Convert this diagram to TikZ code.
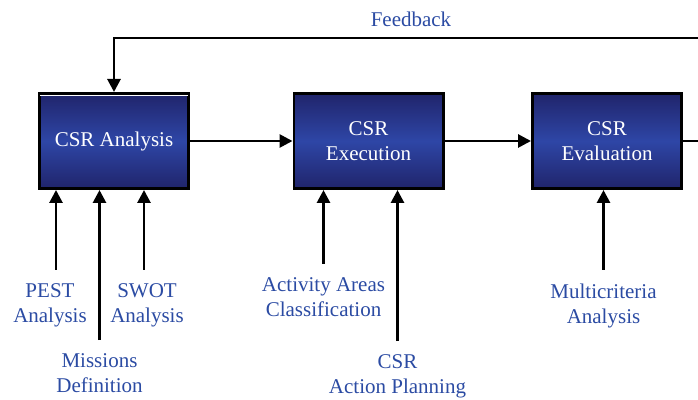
\documentclass[tikz,border=0pt]{standalone}
\usepackage{fontspec}
\setmainfont{Liberation Serif}
\usetikzlibrary{arrows.meta,positioning}
\definecolor{csrdark}{HTML}{20246B}
\definecolor{csrlight}{HTML}{2E46A6}
\definecolor{csrtext}{HTML}{2B4BA3}

\begin{document}
\begin{tikzpicture}[x=1pt,y=1pt,
  csrbox/.style={draw=black, line width=2.8pt, minimum width=149.2pt, minimum height=95.2pt,
    inner sep=0pt, top color=csrdark, bottom color=csrdark, middle color=csrlight,
    text=white, align=center, font=\fontsize{21}{25}\selectfont},
  lbl/.style={text=csrtext, align=center, inner sep=0pt, outer ysep=14pt,
    font=\fontsize{21}{25}\selectfont},
  flow/.style={line width=2.8pt, -{Triangle[width=13pt,length=13pt]}}]
\useasboundingbox (0,0) rectangle (698,399);
%boxes
\node[csrbox] (ana) at (114,258) {CSR Analysis};
\node[csrbox] (exe) at (368.5,258) {CSR\\Execution};
\node[csrbox] (eva) at (607,258) {CSR\\Evaluation};
\draw[white, line width=1pt] ([xshift=2pt,yshift=-3.8pt]ana.north west) -- ([xshift=-2pt,yshift=-3.8pt]ana.north east);
%main flow
\draw[flow] (ana) -- (exe);
\draw[flow] (exe) -- (eva);
\coordinate (out) at (698,258);
\draw[line width=2.8pt] (eva) -- (out);
%feedback
\coordinate (fb) at (698,361);
\node[lbl, outer ysep=0pt] (fbl) at (411,380) {Feedback};
\draw[flow] (fb) -| (ana.north);
%inputs
\node[lbl, anchor=north] (pest) at (50,129) {PEST\\Analysis};
\node[lbl, anchor=north] (mis) at (99.5,59) {Missions\\Definition};
\node[lbl, anchor=north] (swot) at (147,129) {SWOT\\Analysis};
\node[lbl, anchor=north] (act) at (323.5,135) {Activity Areas\\Classification};
\node[lbl, anchor=north] (plan) at (397.5,58) {CSR\\Action Planning};
\node[lbl, anchor=north] (mcrit) at (603.5,129) {Multicriteria\\Analysis};
\draw[flow] ([xshift=6pt]pest.north) -- ([xshift=6pt]pest.north |- ana.south);
\draw[flow] (mis.north) -- (mis.north |- ana.south);
\draw[flow] ([xshift=-3pt]swot.north) -- ([xshift=-3pt]swot.north |- ana.south);
\draw[flow] (act.north) -- (act.north |- exe.south);
\draw[flow] (plan.north) -- (plan.north |- exe.south);
\draw[flow] (mcrit.north) -- (mcrit.north |- eva.south);
\end{tikzpicture}
\end{document}
